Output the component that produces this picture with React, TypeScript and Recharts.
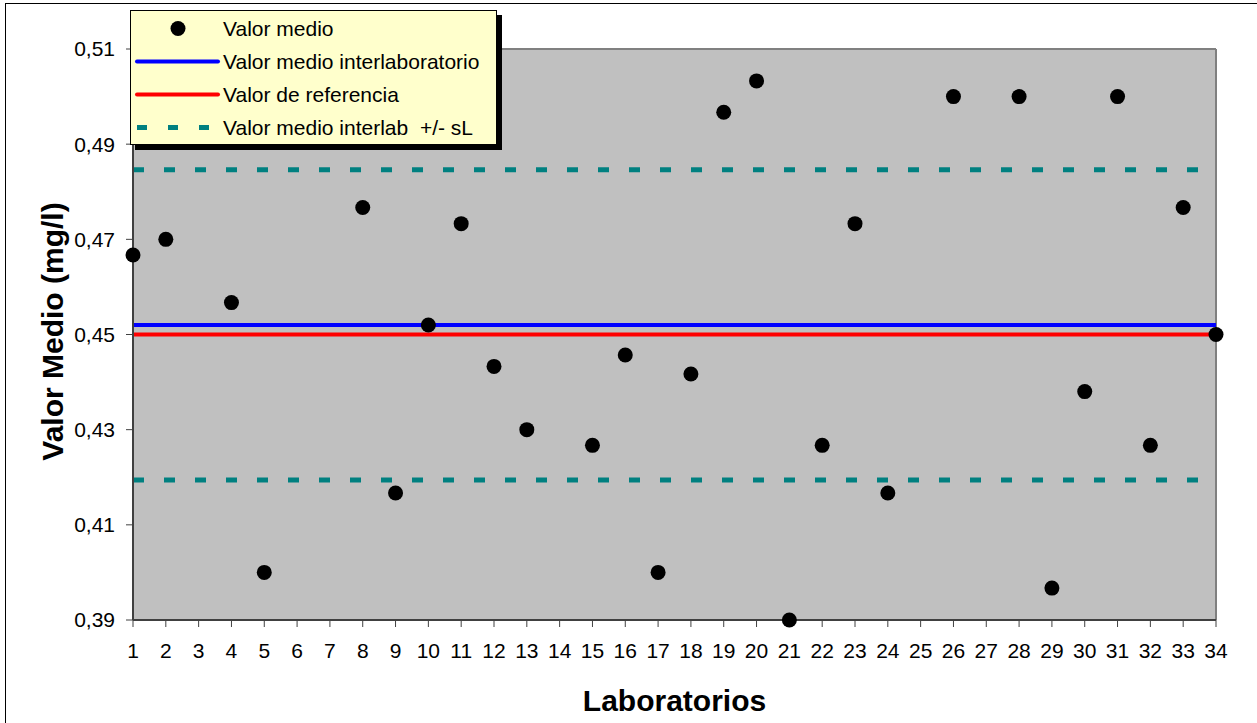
import {
  ComposedChart,
  Scatter,
  Line,
  XAxis,
  YAxis,
  CartesianGrid,
  Legend,
  Label,
} from "recharts";

// laboratorios con resultado y su valor medio (mg/l)
const laboratorios = [
  1, 2, 4, 5, 8, 9, 10, 11, 12, 13, 15, 16, 17, 18, 19, 20, 21, 22, 23, 24,
  26, 28, 29, 30, 31, 32, 33, 34,
];
const valoresMedios = [
  0.4667, 0.47, 0.4567, 0.4, 0.4767, 0.4167, 0.452, 0.4733, 0.4433, 0.43,
  0.4267, 0.4457, 0.4, 0.4417, 0.4967, 0.5033, 0.39, 0.4267, 0.4733, 0.4167,
  0.5, 0.5, 0.3967, 0.438, 0.5, 0.4267, 0.4767, 0.45,
];

const valorMedioInterlab = 0.452;
const valorReferencia = 0.45;
const sL = 0.0326;

const ticksX = [
  1, 2, 3, 4, 5, 6, 7, 8, 9, 10, 11, 12, 13, 14, 15, 16, 17, 18, 19, 20, 21,
  22, 23, 24, 25, 26, 27, 28, 29, 30, 31, 32, 33, 34,
];
const ticksY = [0.39, 0.41, 0.43, 0.45, 0.47, 0.49, 0.51];

const leyenda = [
  { label: "Valor medio", tipo: "punto", color: "#000000" },
  { label: "Valor medio interlaboratorio", tipo: "linea", color: "#0000FF" },
  { label: "Valor de referencia", tipo: "linea", color: "#FF0000" },
  { label: "Valor medio interlab  +/- sL", tipo: "guiones", color: "#008080" },
];

const puntos = laboratorios.map((lab, i) => ({ lab, valor: valoresMedios[i] }));
const extremos = [ticksX[0], ticksX[ticksX.length - 1]].map((lab) => ({
  lab,
  media: valorMedioInterlab,
  referencia: valorReferencia,
  superior: valorMedioInterlab + sL,
  inferior: valorMedioInterlab - sL,
}));

const fuente = "'Liberation Sans', Arial, sans-serif";

function formatComa(v: number) {
  return v.toFixed(2).replace(".", ",");
}

function Leyenda() {
  return (
    <div
      style={{
        background: "#FFFFCC",
        border: "1px solid #000",
        boxShadow: "5px 5px 0 #000",
        width: 367,
        height: 135,
        boxSizing: "border-box",
        paddingTop: 1,
        fontFamily: fuente,
      }}
    >
      {leyenda.map((e) => (
        <div
          key={e.label}
          style={{ display: "flex", alignItems: "center", height: 33.1 }}
        >
          <svg width={92} height={33}>
            {e.tipo === "punto" && <circle cx={47} cy={16.5} r={7.5} fill={e.color} />}
            {e.tipo === "linea" && (
              <line
                x1={6}
                x2={87}
                y1={16.5}
                y2={16.5}
                stroke={e.color}
                strokeWidth={4}
                strokeLinecap="round"
              />
            )}
            {e.tipo === "guiones" && (
              <line
                x1={6}
                x2={80}
                y1={16.5}
                y2={16.5}
                stroke={e.color}
                strokeWidth={5}
                strokeDasharray="10 21"
              />
            )}
          </svg>
          <span style={{ fontSize: 21, whiteSpace: "pre", color: "#000" }}>
            {e.label}
          </span>
        </div>
      ))}
    </div>
  );
}

export default function App() {
  return (
    <div
      style={{
        position: "absolute",
        left: 0,
        top: 0,
        width: 1257,
        height: 723,
        overflow: "hidden",
        background: "#fff",
        fontFamily: fuente,
      }}
    >
      <div
        style={{
          position: "absolute",
          left: 5,
          top: 3,
          width: 1400,
          height: 900,
          border: "1px solid #000",
        }}
      />
      <ComposedChart
        width={1257}
        height={723}
        margin={{ top: 49, right: 41, bottom: 0, left: 0 }}
      >
        <CartesianGrid
          fill="#C0C0C0"
          stroke="#808080"
          strokeWidth={2}
          horizontalValues={[0.51]}
          verticalValues={[34]}
        />
        <XAxis
          type="number"
          dataKey="lab"
          domain={[1, 34]}
          ticks={ticksX}
          interval={0}
          height={103}
          tickSize={7}
          tickMargin={16}
          axisLine={{ stroke: "#404040", strokeWidth: 2 }}
          tickLine={{ stroke: "#404040" }}
          tick={{ fontSize: 21, fill: "#000", fontFamily: fuente }}
        >
          <Label
            value="Laboratorios"
            position="insideBottom"
            offset={12}
            style={{ fontSize: 30, fontWeight: "bold", fill: "#000", fontFamily: fuente }}
          />
        </XAxis>
        <YAxis
          type="number"
          domain={[0.39, 0.51]}
          ticks={ticksY}
          interval={0}
          width={133}
          tickSize={7}
          tickMargin={11}
          tickFormatter={formatComa}
          axisLine={{ stroke: "#404040", strokeWidth: 2 }}
          tickLine={{ stroke: "#404040" }}
          tick={{ fontSize: 21, fill: "#000", fontFamily: fuente }}
        >
          <Label
            content={({ viewBox }: any) => {
              const cx = (viewBox?.x ?? 0) + 63;
              const cy = (viewBox?.y ?? 0) + (viewBox?.height ?? 0) / 2 - 3;
              return (
                <text
                  x={cx}
                  y={cy}
                  transform={`rotate(-90 ${cx} ${cy})`}
                  textAnchor="middle"
                  fontSize={30}
                  fontWeight="bold"
                  fontFamily={fuente}
                  fill="#000"
                >
                  Valor Medio (mg/l)
                </text>
              );
            }}
          />
        </YAxis>
        <Line
          data={extremos}
          dataKey="superior"
          stroke="#008080"
          strokeWidth={5}
          strokeDasharray="11 20"
          dot={false}
          isAnimationActive={false}
        />
        <Line
          data={extremos}
          dataKey="inferior"
          stroke="#008080"
          strokeWidth={5}
          strokeDasharray="11 20"
          dot={false}
          isAnimationActive={false}
        />
        <Line
          data={extremos}
          dataKey="media"
          stroke="#0000FF"
          strokeWidth={4}
          dot={false}
          isAnimationActive={false}
        />
        <Line
          data={extremos}
          dataKey="referencia"
          stroke="#FF0000"
          strokeWidth={4}
          dot={false}
          isAnimationActive={false}
        />
        <Scatter
          data={puntos}
          dataKey="valor"
          fill="#000"
          isAnimationActive={false}
          shape={(p: any) => <circle cx={p.cx} cy={p.cy} r={7.5} fill="#000" />}
        />
        <Legend
          layout="vertical"
          align="center"
          verticalAlign="middle"
          content={() => <Leyenda />}
          wrapperStyle={{ left: 130, top: 10, width: 367, height: 135 }}
        />
      </ComposedChart>
    </div>
  );
}
